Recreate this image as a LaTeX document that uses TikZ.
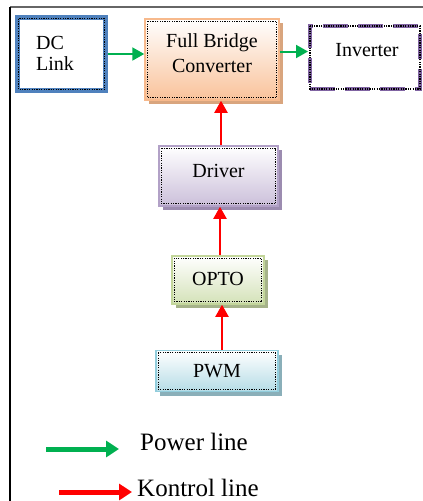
\documentclass[tikz,border=0pt]{standalone}
\usepackage{fontspec}
\setmainfont{Liberation Serif}
\usetikzlibrary{arrows.meta,shadows,calc}
\definecolor{pgreen}{HTML}{00B050}
\definecolor{kred}{HTML}{FF0000}
\definecolor{dcblue}{HTML}{4F81BD}
\definecolor{invpurple}{HTML}{8064A2}
\definecolor{fbcborder}{HTML}{F7B98C}
\definecolor{fbcfill}{HTML}{F9C29A}
\definecolor{fbcshadow}{HTML}{D9A57E}
\definecolor{drvborder}{HTML}{B2A1C7}
\definecolor{drvfill}{HTML}{CBBFDA}
\definecolor{drvshadow}{HTML}{9C8CB0}
\definecolor{optborder}{HTML}{C3D69B}
\definecolor{optfill}{HTML}{D4E2B8}
\definecolor{optshadow}{HTML}{A6B38A}
\definecolor{pwmborder}{HTML}{92CDDC}
\definecolor{pwmfill}{HTML}{B5DCE6}
\definecolor{pwmshadow}{HTML}{8AAFB9}
\tikzset{
  blk/.style={rectangle, inner sep=0pt, font=\fontsize{20}{24}\selectfont, align=center},
  gradbox/.style n args={3}{blk, draw=#1, line width=1.5pt, top color=white, bottom color=#2,
     drop shadow={shadow xshift=3.5pt, shadow yshift=-4pt, fill=#3, opacity=1}},
  powarrow/.style={draw=pgreen, line width=2pt, -{Triangle[length=12pt,width=13pt]}, fill=pgreen},
  ctlarrow/.style={draw=kred, line width=2pt, -{Triangle[length=12pt,width=13pt]}, fill=kred},
  legpow/.style={draw=pgreen, line width=5pt, -{Triangle[length=13pt,width=16pt]}},
  legctl/.style={draw=kred, line width=5pt, -{Triangle[length=13pt,width=16pt]}},
  innerdot/.style={draw=black, line width=1.2pt, dash pattern=on 1.2pt off 1.2pt},
  legtext/.style={font=\fontsize{25}{28}\selectfont, inner sep=0pt, anchor=west}
}
\begin{document}
\begin{tikzpicture}[x=1pt,y=-1pt]
\useasboundingbox (0,0) rectangle (423,501);
% frame
\draw[line width=1.5pt, draw=black!60] (10,7) -- (423,7);
\draw[line width=1.2pt, draw=black] (10,7) -- (10,501);

% boxes
\node[blk, draw=dcblue, line width=5pt, fill=white, minimum width=88pt, minimum height=73pt] (dc) at (61.5,54) {};
\draw[innerdot] ([shift={(3.5pt,-3.5pt)}]dc.north west) rectangle ([shift={(-3.5pt,3.5pt)}]dc.south east);
\node[font=\fontsize{20}{21}\selectfont, align=left, anchor=west, inner sep=0pt] (dctext) at (36,53) {DC\\Link};

\node[gradbox={fbcborder}{fbcfill}{fbcshadow}, minimum width=134pt, minimum height=81pt] (fbc) at (212,59.5) {};
\draw[innerdot] ([shift={(3pt,-3pt)}]fbc.north west) rectangle ([shift={(-3pt,3pt)}]fbc.south east);
\node[blk, font=\fontsize{20}{25}\selectfont] (fbctext) at (212,53) {Full Bridge\\Converter};

\node[blk, draw=invpurple, line width=4pt, dash pattern=on 25pt off 10pt, fill=white, minimum width=110pt, minimum height=63pt] (inv) at (365,57.5) {};
\draw[innerdot] ([shift={(2pt,-2pt)}]inv.north west) rectangle ([shift={(-2pt,2pt)}]inv.south east);
\node[blk] (invtext) at (367,50) {Inverter};

\node[gradbox={drvborder}{drvfill}{drvshadow}, minimum width=119pt, minimum height=60pt] (drv) at (218.5,176) {};
\draw[innerdot] ([shift={(3pt,-3pt)}]drv.north west) rectangle ([shift={(-3pt,3pt)}]drv.south east);
\node[blk] (drvtext) at (218.5,171) {Driver};

\node[gradbox={optborder}{optfill}{optshadow}, minimum width=92pt, minimum height=48pt] (opto) at (218,280) {};
\draw[innerdot] ([shift={(3pt,-3pt)}]opto.north west) rectangle ([shift={(-3pt,3pt)}]opto.south east);
\node[blk] (optotext) at (218,279) {OPTO};

\node[gradbox={pwmborder}{pwmfill}{pwmshadow}, minimum width=122pt, minimum height=41pt] (pwm) at (217,371) {};
\draw[innerdot] ([shift={(3pt,-3pt)}]pwm.north west) rectangle ([shift={(-3pt,3pt)}]pwm.south east);
\node[blk] (pwmtext) at (217,371) {PWM};

% connectors
\draw[powarrow] (dc.east) -- (dc.east -| fbc.west);
\draw[powarrow] ([yshift=6pt]inv.west -| fbc.east) -- ([yshift=6pt]inv.west);
\draw[ctlarrow] ([xshift=2.5pt]drv.north) -- ([xshift=2.5pt]drv.north |- fbc.south);
\draw[ctlarrow] ([xshift=2pt]opto.north) -- ([xshift=2pt]opto.north |- drv.south);
\draw[ctlarrow] ([xshift=5pt]pwm.north) -- ([xshift=5pt]pwm.north |- opto.south);

% legend
\coordinate (pa) at (46,449);
\coordinate (pb) at (119,449);
\coordinate (ka) at (59,492);
\coordinate (kb) at (132,492);
\draw[legpow] (pa) -- (pb);
\draw[legctl] (ka) -- (kb);
\node[legtext] (ptext) at (140,442) {Power line};
\node[legtext] (ktext) at (137,488) {Kontrol line};
\end{tikzpicture}
\end{document}
